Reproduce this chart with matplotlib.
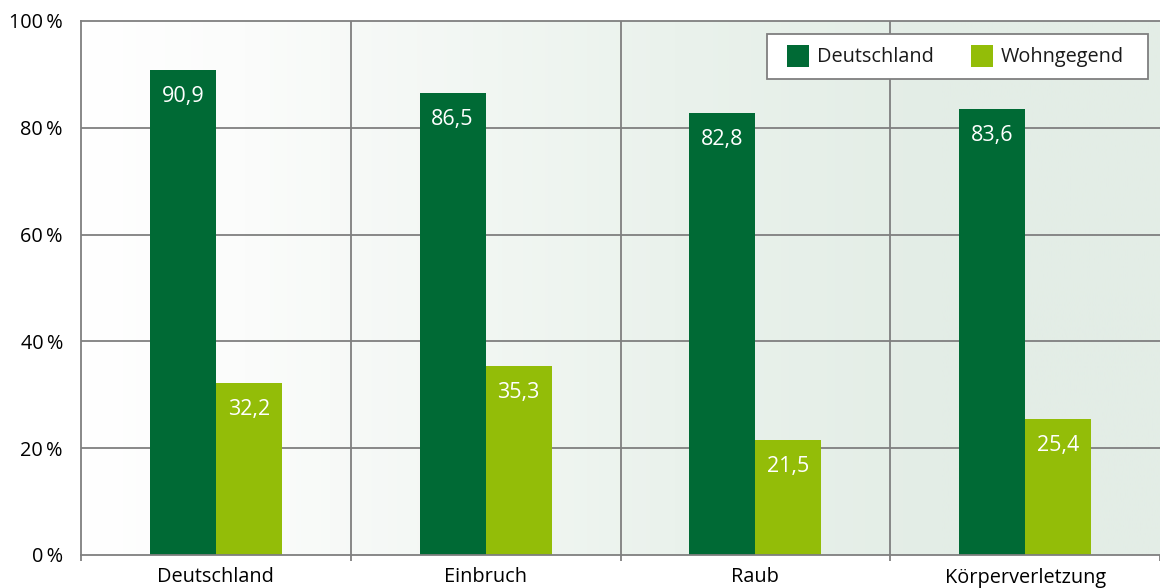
import numpy as np
import matplotlib
matplotlib.use("Agg")
import matplotlib.pyplot as plt
from matplotlib.colors import LinearSegmentedColormap
from matplotlib.patches import Rectangle

plt.rcParams['font.family'] = ['Open Sans', 'DejaVu Sans']

categories = ["Deutschland", "Einbruch", "Raub", "Körperverletzung"]
series_names = ["Deutschland", "Wohngegend"]
deutschland = [90.9, 86.5, 82.8, 83.6]
wohngegend = [32.2, 35.3, 21.5, 25.4]
yticks = [0, 20, 40, 60, 80, 100]
ytick_labels = ["0\u2009%", "20\u2009%", "40\u2009%", "60\u2009%", "80\u2009%", "100\u2009%"]

c_dark = "#006a35"
c_light = "#93bd08"
grid_c = "#7f7f7f"
FS = 14.3
FS_VAL = 15.5

W, H = 1160, 588
fig = plt.figure(figsize=(W/100, H/100), dpi=100)
ax = fig.add_axes([81/W, 1 - 555/H, (W-81)/W, (555-21)/H])

# gradient background
cmap = LinearSegmentedColormap.from_list(
    "bg", [(0, "#ffffff"), (0.15, "#fbfcfb"), (0.55, "#eaf2ec"), (0.8, "#e3ede6"), (1, "#e3ede6")])
grad = np.linspace(0, 1, 512).reshape(1, -1)
ax.imshow(grad, cmap=cmap, aspect="auto", extent=[0, 1, 0, 1],
          transform=ax.transAxes, zorder=0)

n = len(categories)
x = np.arange(n)
w = 0.245
ax.set_xlim(-0.5, n - 0.5)
ax.set_ylim(0, 100)

b1 = ax.bar(x - w/2, deutschland, w, color=c_dark, zorder=3)
b2 = ax.bar(x + w/2, wohngegend, w, color=c_light, zorder=3)

for bars, vals in ((b1, deutschland), (b2, wohngegend)):
    for r, v in zip(bars, vals):
        ax.annotate(f"{v:.1f}".replace(".", ","),
                    (r.get_x() + r.get_width()/2, v),
                    xytext=(0, -11.5), textcoords="offset points",
                    ha="center", va="top", color="white", fontsize=FS_VAL, zorder=4)

# horizontal grid
for yv in yticks[1:-1]:
    ax.axhline(yv, color=grid_c, lw=1.3, zorder=1)
# vertical separators
for xv in np.arange(0.5, n - 0.5, 1):
    ax.axvline(xv, color=grid_c, lw=1.3, zorder=1)

ax.set_yticks(yticks)
ax.set_yticklabels(ytick_labels, fontsize=FS)
ax.tick_params(axis="y", length=0, pad=13)
ax.set_xticks(x)
ax.set_xticklabels(categories, fontsize=FS)
ax.tick_params(axis="x", length=0, pad=9)
ax.set_xticks(np.arange(-0.5, n, 1), minor=True)
ax.tick_params(axis="x", which="minor", length=4, color=grid_c, width=1.3)

for s in ["left", "bottom", "top"]:
    ax.spines[s].set_color(grid_c)
    ax.spines[s].set_linewidth(1.3)
    ax.spines[s].set_zorder(5)
ax.spines["right"].set_visible(False)

# legend box (figure pixel coordinates, y from top)
def fx(px):
    return px / W
def fy(py):
    return 1 - py / H

fig.patches.append(Rectangle((fx(767), fy(79)), fx(1148) - fx(767), fy(34) - fy(79),
                             transform=fig.transFigure, facecolor="white",
                             edgecolor=grid_c, lw=1.3, zorder=10))
for hx, tx, col, name in ((787, 817, c_dark, series_names[0]),
                          (971, 1001, c_light, series_names[1])):
    fig.patches.append(Rectangle((fx(hx), fy(67)), fx(22), 22 / H,
                                 transform=fig.transFigure, facecolor=col,
                                 edgecolor="none", zorder=11))
    fig.text(fx(tx), fy(57), name, ha="left", va="center", fontsize=FS,
             color="#1a1a1a", zorder=12)

fig.savefig("out.png", dpi=100)
